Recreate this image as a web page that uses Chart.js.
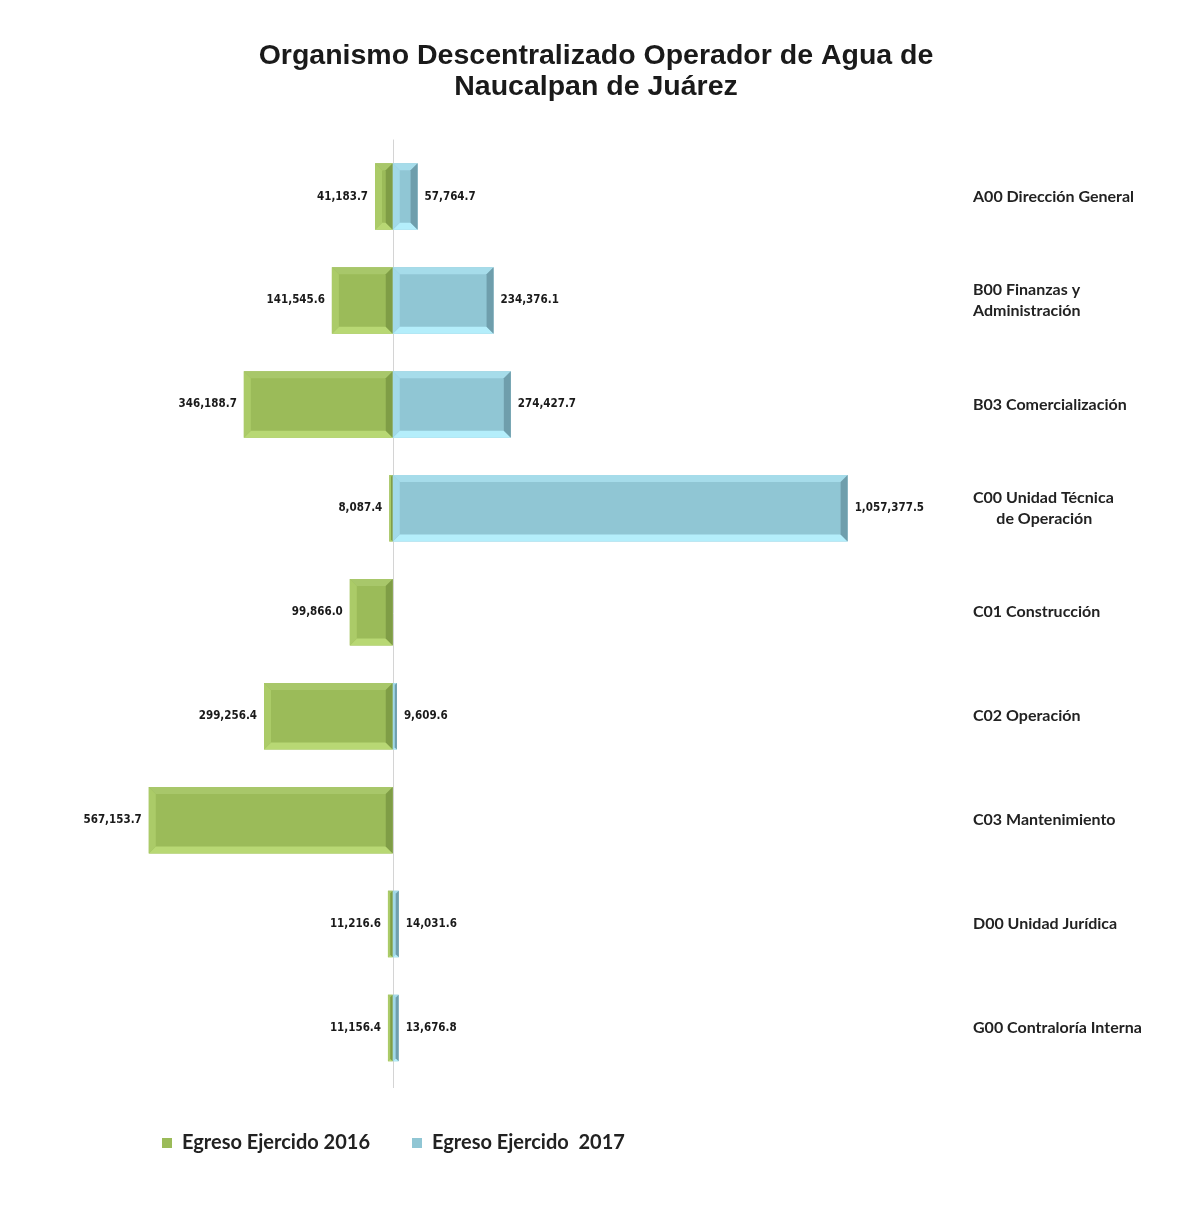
<!DOCTYPE html>
<html>
<head>
<meta charset="utf-8">
<script src="https://cdn.jsdelivr.net/npm/chart.js@4.4.0/dist/chart.umd.min.js"></script>
<style>
  html, body { margin: 0; padding: 0; background: #fff; }
  #wrap { width: 1200px; height: 1213px; }
</style>
</head>
<body>
<div id="wrap"><canvas id="egresoChart"></canvas></div>
<script>
const categories = [
    'A00 Dirección General',
    ['B00 Finanzas y', 'Administración'],
    'B03 Comercialización',
    ['C00 Unidad Técnica', '      de Operación'],
    'C01 Construcción',
    'C02 Operación',
    'C03 Mantenimiento',
    'D00 Unidad Jurídica',
    'G00 Contraloría Interna'
];
const egreso2016 = [41183.7, 141545.6, 346188.7, 8087.4, 99866.0, 299256.4, 567153.7, 11216.6, 11156.4];
const egreso2017 = [57764.7, 234376.1, 274427.7, 1057377.5, null, 9609.6, null, 14031.6, 13676.8];
const seriesNames = ['Egreso Ejercido 2016', 'Egreso Ejercido  2017'];

const fmt = v => v.toLocaleString('en-US', { minimumFractionDigits: 1, maximumFractionDigits: 1 });

// bevel look of the original bars
const bevelColors = [
    { top: '#a8c76a', bottom: '#b8d874', left: '#abcb68', right: '#7f9d46' },
    { top: '#a6dcea', bottom: '#b4eefb', left: '#a2d9e8', right: '#6f9eac' }
];

const zeroLine = {
    id: 'zeroLine',
    beforeDatasetsDraw(chart) {
        const ctx = chart.ctx;
        const x = Math.round(chart.scales.x.getPixelForValue(0)) + 0.5;
        ctx.save();
        ctx.strokeStyle = '#d4d4d4';
        ctx.lineWidth = 1;
        ctx.beginPath();
        ctx.moveTo(x, chart.chartArea.top - 5);
        ctx.lineTo(x, chart.chartArea.bottom + 8);
        ctx.stroke();
        ctx.restore();
    }
};

const bevelPlugin = {
    id: 'bevel',
    afterDatasetsDraw(chart) {
        const ctx = chart.ctx;
        chart.data.datasets.forEach((ds, i) => {
            const meta = chart.getDatasetMeta(i);
            const c = bevelColors[i];
            meta.data.forEach((bar, j) => {
                if (ds.data[j] === null) return;
                const l = Math.min(bar.x, bar.base), r = Math.max(bar.x, bar.base);
                const t = bar.y - bar.height / 2, b = bar.y + bar.height / 2;
                const s = Math.min(7, (r - l) / 2);
                const poly = (pts, col) => {
                    ctx.beginPath();
                    ctx.moveTo(pts[0][0], pts[0][1]);
                    pts.slice(1).forEach(p => ctx.lineTo(p[0], p[1]));
                    ctx.closePath();
                    ctx.fillStyle = col;
                    ctx.fill();
                };
                ctx.save();
                poly([[l, t], [r, t], [r - s, t + s], [l + s, t + s]], c.top);
                poly([[l, b], [r, b], [r - s, b - s], [l + s, b - s]], c.bottom);
                poly([[l, t], [l + s, t + s], [l + s, b - s], [l, b]], c.left);
                poly([[r, t], [r - s, t + s], [r - s, b - s], [r, b]], c.right);
                ctx.restore();
            });
        });
    }
};

const valueLabels = {
    id: 'valueLabels',
    afterDatasetsDraw(chart) {
        const ctx = chart.ctx;
        ctx.save();
        ctx.font = 'bold 11.5px "DejaVu Sans Condensed", "Liberation Sans", Arial, sans-serif';
        ctx.fillStyle = '#1a1a1a';
        ctx.textBaseline = 'middle';
        chart.data.datasets.forEach((ds, i) => {
            const meta = chart.getDatasetMeta(i);
            const raw = i === 0 ? egreso2016 : egreso2017;
            meta.data.forEach((bar, j) => {
                if (raw[j] === null) return;
                if (i === 0) {
                    ctx.textAlign = 'right';
                    ctx.fillText(fmt(raw[j]), Math.min(bar.x, bar.base) - 7, bar.y);
                } else {
                    ctx.textAlign = 'left';
                    ctx.fillText(fmt(raw[j]), Math.max(bar.x, bar.base) + 7, bar.y);
                }
            });
        });
        ctx.restore();
    }
};

// move the legend to the right, under the bars
const legendShift = {
    id: 'legendShift',
    afterLayout(chart) {
        chart.legend.left += 120;
        chart.legend.right += 120;
    }
};

const ctx = document.getElementById('egresoChart').getContext('2d');
const egresoChart = new Chart(ctx, {
    type: 'bar',
    data: {
        labels: categories,
        datasets: [
            {
                label: seriesNames[0],
                data: egreso2016.map(v => v === null ? null : -v),
                backgroundColor: '#9bbb59',
                categoryPercentage: 0.64,
                barPercentage: 1
            },
            {
                label: seriesNames[1],
                data: egreso2017,
                backgroundColor: '#90c6d4',
                categoryPercentage: 0.64,
                barPercentage: 1
            }
        ]
    },
    options: {
        indexAxis: 'y',
        animation: false,
        responsive: true,
        maintainAspectRatio: false,
        layout: { padding: { left: 0, right: 8, top: 0, bottom: 50 } },
        scales: {
            x: {
                stacked: true,
                min: -913000,
                max: 1300000,
                ticks: { display: false },
                grid: { display: false, drawTicks: false },
                border: { display: false },
                afterFit: s => { s.height = 11; }
            },
            y: {
                stacked: true,
                position: 'right',
                grid: { display: false, drawTicks: false },
                border: { display: false },
                ticks: {
                    padding: 21,
                    color: '#222',
                    font: { family: 'Lato, "Open Sans", sans-serif', size: 16, weight: 'bold', lineHeight: 1.35 }
                },
                afterFit: s => { s.width = 240; }
            }
        },
        plugins: {
            title: {
                display: true,
                text: ['Organismo Descentralizado Operador de Agua de', 'Naucalpan de Juárez'],
                color: '#1a1a1a',
                font: { family: '"Liberation Sans", Arial, sans-serif', size: 28.5, weight: 'bold', lineHeight: 1.08 },
                padding: { top: 41, bottom: 42 }
            },
            legend: {
                position: 'bottom',
                align: 'start',
                labels: {
                    boxWidth: 10,
                    boxHeight: 10,
                    padding: 42,
                    color: '#222',
                    font: { family: 'Lato, "Open Sans", sans-serif', size: 20, weight: 'bold' }
                }
            },
            tooltip: { enabled: false }
        }
    },
    plugins: [zeroLine, bevelPlugin, valueLabels, legendShift]
});
</script>
</body>
</html>
